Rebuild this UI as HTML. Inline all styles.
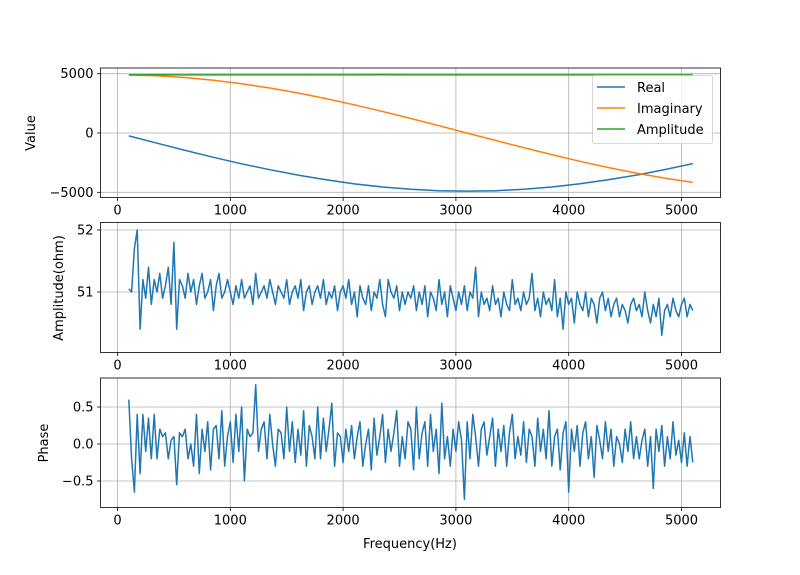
<!DOCTYPE html>
<html><head><meta charset="utf-8"><style>
body{margin:0;background:#fff}
svg text{font-family:"DejaVu Sans","Liberation Sans",sans-serif;font-size:13px;fill:#000}
</style></head><body>
<svg id="fig" width="800" height="570" xmlns="http://www.w3.org/2000/svg"></svg>
<script>
const xTicks=[0,1000,2000,3000,4000,5000];
const smoothFreq=[100,350,600,850,1100,1350,1600,1850,2100,2350,2600,2850,3100,3350,3600,3850,4100,4350,4600,4850,5100];
const realVals=[-248,-864,-1467,-2046,-2594,-3097,-3552,-3950,-4288,-4553,-4745,-4862,-4900,-4861,-4743,-4549,-4283,-3945,-3548,-3088,-2582];
const imagVals=[4894,4823,4676,4453,4157,3797,3374,2900,2376,1812,1224,614,-5,-623,-1232,-1823,-2384,-2908,-3382,-3802,-4165];
const ampTopVals=[4900,4905,4895,4902,4898,4903,4897,4901,4899,4904,4896,4900,4902,4898,4901,4897,4903,4899,4900,4902,4898];
const ampVals=[51.05,51.0,51.7,52.0,50.4,51.2,50.9,51.4,50.8,51.2,51.0,51.3,50.9,51.1,51.4,50.8,51.8,50.4,51.2,51.1,
50.9,51.3,51.0,51.2,50.8,51.1,51.3,50.9,51.0,51.2,50.7,51.1,51.3,50.9,51.0,51.2,51.0,50.8,51.1,50.9,
51.2,50.9,51.0,51.1,50.8,51.3,50.9,51.0,51.1,50.9,51.2,51.0,50.8,51.1,51.0,50.9,51.2,50.8,51.0,51.1,
50.9,51.2,50.7,51.0,51.1,50.8,51.0,51.1,50.9,51.2,50.8,51.0,50.9,51.1,50.7,51.0,51.1,50.9,51.2,50.8,
51.0,50.6,51.1,50.9,50.8,51.1,50.7,51.0,50.9,51.2,50.8,50.6,51.2,51.0,50.9,51.1,50.7,51.0,50.8,51.0,
50.9,51.1,50.7,51.0,50.8,51.1,50.6,51.0,50.9,50.7,51.2,50.8,51.0,50.6,51.1,50.9,50.7,51.0,50.8,51.1,
50.7,51.0,50.9,51.4,50.6,51.0,50.8,50.9,50.7,51.1,50.8,50.9,50.6,51.0,50.8,50.7,51.2,50.8,50.9,50.7,
51.0,50.8,50.9,51.3,50.7,50.9,50.6,51.0,50.8,50.9,50.7,51.2,50.6,50.9,50.4,51.0,50.8,50.9,50.5,51.0,
50.8,50.7,51.0,50.6,50.9,50.8,50.5,50.9,51.0,50.7,50.9,50.6,50.8,50.9,50.6,50.8,50.7,50.5,50.8,50.9,
50.7,50.8,50.6,51.0,50.7,50.5,50.8,50.6,50.9,50.3,50.7,50.8,50.6,50.9,50.7,50.6,50.8,50.9,50.6,50.8,
50.7];
const phaseVals=[0.6,-0.2,-0.65,0.4,-0.4,0.4,-0.1,0.35,-0.2,0.4,-0.2,0.2,0.1,0.15,-0.2,0.05,0.1,-0.55,0.15,0.1,
0.2,-0.2,0.0,-0.3,0.4,-0.4,0.2,-0.1,0.3,-0.35,0.2,0.25,-0.2,0.45,-0.3,0.1,0.3,-0.25,0.4,-0.1,
0.5,-0.5,0.2,0.1,0.15,0.8,-0.1,0.2,0.3,-0.2,0.4,0.0,-0.3,0.2,0.15,-0.2,0.5,-0.1,0.3,-0.25,
0.2,-0.15,0.45,-0.3,0.25,0.1,-0.2,0.5,-0.2,0.35,-0.1,0.2,0.55,-0.3,0.15,0.1,-0.25,0.2,-0.1,0.25,
-0.2,0.1,0.3,-0.3,0.0,0.2,-0.35,0.35,-0.15,0.1,0.4,-0.25,0.2,-0.1,0.15,0.45,-0.3,0.1,-0.2,0.3,
0.2,-0.35,0.5,-0.2,0.15,0.3,-0.3,0.4,-0.1,0.2,-0.4,0.55,-0.2,0.1,-0.3,0.2,-0.1,0.3,0.05,-0.75,
0.3,-0.2,0.4,0.1,-0.3,0.2,0.3,-0.15,0.1,0.35,-0.3,0.2,-0.1,0.25,-0.3,0.15,0.4,-0.2,0.1,-0.15,
0.3,-0.25,0.2,0.1,-0.3,0.35,-0.1,0.2,-0.2,0.45,-0.3,0.1,0.2,-0.35,0.15,0.3,-0.65,0.2,-0.1,0.25,
-0.3,0.15,0.3,-0.2,0.1,-0.45,0.25,0.05,-0.2,0.3,-0.1,0.2,-0.3,0.1,0.0,-0.25,0.2,-0.1,0.3,-0.2,
0.1,-0.2,0.05,0.2,-0.3,0.1,-0.6,0.2,-0.1,0.25,-0.3,0.1,-0.2,0.3,-0.15,0.05,-0.25,0.15,-0.3,0.1,
-0.25];
const noisyStart=100, noisyStep=25;
const yTicks1=[5000,0,-5000], yLabels1=["5000","0","\u22125000"];
const yTicks2=[52,51], yLabels2=["52","51"];
const yTicks3=[0.5,0,-0.5], yLabels3=["0.5","0.0","\u22120.5"];

const svg=document.getElementById('fig');
const NS="http://www.w3.org/2000/svg";
function mk(tag,attrs,parent){const e=document.createElementNS(NS,tag);for(const k in attrs)e.setAttribute(k,attrs[k]);(parent||svg).appendChild(e);return e;}
const L=100.5,R=720.5;
const xs=v=>117.5+(v/1000)*112.8;

function panel(name,top,bottom,yScale,yt,yl){
  const g=mk('g',{});
  
  
  xTicks.forEach(t=>{const l=mk('line',{x1:xs(t),x2:xs(t),y1:top,y2:bottom,stroke:'#b0b0b0','stroke-width':0.8},g);
    
    mk('line',{x1:xs(t),x2:xs(t),y1:bottom,y2:bottom+3.5,stroke:'#000','stroke-width':0.8},g);
    const tx=mk('text',{x:xs(t),y:bottom+17,'text-anchor':'middle'},g);tx.textContent=t;
    });
  yt.forEach((t,i)=>{const y=yScale(t);
    const l=mk('line',{x1:L,x2:R,y1:y,y2:y,stroke:'#b0b0b0','stroke-width':0.8},g);
    
    mk('line',{x1:L-3.5,x2:L,y1:y,y2:y,stroke:'#000','stroke-width':0.8},g);
    const tx=mk('text',{x:L-7,y:y+4.5,'text-anchor':'end'},g);tx.textContent=yl[i];
    });
  return g;
}
function line(g,xv,yv,ys,color,name){
  const d=xv.map((x,i)=>(i?'L':'M')+xs(x).toFixed(1)+','+ys(yv[i]).toFixed(1)).join('');
  const p=mk('path',{d:d,fill:'none',stroke:color,'stroke-width':1.5,'stroke-linejoin':'round'},g);
  
}
function frame(g,top,bottom){const r=mk('rect',{x:L,y:top,width:R-L,height:bottom-top,fill:'none',stroke:'#000','stroke-width':0.8},g);
  }

const y1=v=>133-(v/5000)*59.3;
const g1=panel('value-panel',68,197.5,y1,yTicks1,yLabels1);
line(g1,smoothFreq,realVals,y1,'#1f77b4','real-line');
line(g1,smoothFreq,imagVals,y1,'#ff7f0e','imaginary-line');
line(g1,smoothFreq,ampTopVals,y1,'#2ca02c','amplitude-line');
frame(g1,68,197.5);
const lg=mk('g',{});


mk('rect',{x:592.5,y:75.5,width:120,height:68,rx:2,fill:'#fff','fill-opacity':0.8,stroke:'#ccc','stroke-width':0.8},lg);
[['Real','#1f77b4',87],['Imaginary','#ff7f0e',108],['Amplitude','#2ca02c',129]].forEach(e=>{
  const eg=mk('g',{},lg);
  
  
  mk('line',{x1:597,x2:625,y1:e[2],y2:e[2],stroke:e[1],'stroke-width':1.5},eg);
  const t=mk('text',{x:637,y:e[2]+5},eg);t.textContent=e[0];});

const noisyFreq=ampVals.map((_,i)=>noisyStart+i*noisyStep);
const y2=v=>292-(v-51)*62;
const g2=panel('amplitude-panel',222.5,352.5,y2,yTicks2,yLabels2);
line(g2,noisyFreq,ampVals,y2,'#1f77b4','amplitude-ohm-line');
frame(g2,222.5,352.5);

const y3=v=>444-v*74;
const g3=panel('phase-panel',378,507.5,y3,yTicks3,yLabels3);
line(g3,noisyFreq,phaseVals,y3,'#1f77b4','phase-line');
frame(g3,378,507.5);

function lab(txt,x,y,rot,name){const t=mk('text',{x:x,y:y,'text-anchor':'middle',transform:rot?`rotate(-90 ${x} ${y})`:''});t.textContent=txt;
  }
lab('Value',35,133,true,'y-axis-title-value');
lab('Amplitude(ohm)',63,288,true,'y-axis-title-amplitude');
lab('Phase',48,443,true,'y-axis-title-phase');
lab('Frequency(Hz)',410,548,false,'x-axis-title');
</script>
</body></html>
